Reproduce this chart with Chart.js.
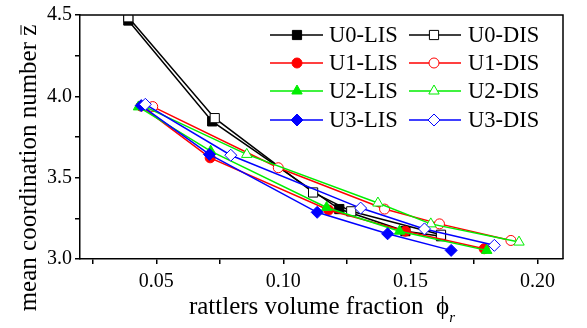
<!DOCTYPE html>
<html>
<head>
<meta charset="utf-8">
<script src="https://cdn.jsdelivr.net/npm/chart.js@4/dist/chart.umd.min.js"></script>
<style>
  html, body { margin: 0; padding: 0; background: #fff; }
  #wrap { width: 587px; height: 328px; }
</style>
</head>
<body>
<div id="wrap"><canvas id="zChart" width="587" height="328"></canvas></div>
<script>
// data
const phiU0LIS = [0.039, 0.072, 0.122, 0.148, 0.162];
const zU0LIS   = [4.466, 3.846, 3.307, 3.171, 3.140];
const phiU0DIS = [0.039, 0.073, 0.1117, 0.1267, 0.162];
const zU0DIS   = [4.486, 3.866, 3.409, 3.293, 3.149];

const phiU1LIS = [0.044, 0.0712, 0.1178, 0.148, 0.179];
const zU1LIS   = [3.940, 3.622, 3.301, 3.171, 3.063];
const phiU1DIS = [0.0486, 0.098, 0.1398, 0.1614, 0.1895];
const zU1DIS   = [3.937, 3.561, 3.307, 3.216, 3.114];

const phiU2LIS = [0.043, 0.0714, 0.117, 0.1457, 0.180];
const zU2LIS   = [3.935, 3.663, 3.317, 3.171, 3.053];
const phiU2DIS = [0.045, 0.0856, 0.1372, 0.158, 0.1927];
const zU2DIS   = [3.940, 3.643, 3.344, 3.216, 3.104];

const phiU3LIS = [0.0441, 0.0709, 0.1133, 0.141, 0.166];
const zU3LIS   = [3.943, 3.643, 3.287, 3.155, 3.053];
const phiU3DIS = [0.0457, 0.0793, 0.1304, 0.1555, 0.183];
const zU3DIS   = [3.951, 3.638, 3.313, 3.185, 3.084];

const xTicks = [0.025, 0.05, 0.075, 0.10, 0.125, 0.15, 0.175, 0.20];
const yTicks = [3.0, 3.25, 3.5, 3.75, 4.0, 4.25, 4.5];

const FONT = "'Liberation Serif', 'Times New Roman', serif";

function pts(xs, ys) {
  return xs.map((x, i) => ({ x: x, y: ys[i] }));
}

// label, x, y, color, style, filled, radius, drawing order (low = on top)
const series = [
  ['U0-LIS', phiU0LIS, zU0LIS, '#000000', 'rect', true, 6.5, 8],
  ['U0-DIS', phiU0DIS, zU0DIS, '#000000', 'rect', false, 6.5, 7],
  ['U1-LIS', phiU1LIS, zU1LIS, '#ff0000', 'circle', true, 5, 6],
  ['U1-DIS', phiU1DIS, zU1DIS, '#ff0000', 'circle', false, 5, 5],
  ['U2-LIS', phiU2LIS, zU2LIS, '#00ee00', 'triangle', true, 6, 4],
  ['U2-DIS', phiU2DIS, zU2DIS, '#00ee00', 'triangle', false, 6, 3],
  ['U3-LIS', phiU3LIS, zU3LIS, '#0000ff', 'rectRot', true, 6, 2],
  ['U3-DIS', phiU3DIS, zU3DIS, '#0000ff', 'rectRot', false, 6, 1]
];

const datasets = series.map(s => ({
  label: s[0],
  data: pts(s[1], s[2]),
  borderColor: s[3],
  borderWidth: 1.5,
  pointStyle: s[4],
  pointRadius: s[6],
  pointBackgroundColor: s[5] ? s[3] : '#ffffff',
  pointBorderColor: s[3],
  pointBorderWidth: 1,
  fill: false,
  tension: 0,
  order: s[7]
}));

const frameAndText = {
  id: 'frameAndText',
  afterDraw(chart) {
    const ctx = chart.ctx;
    const a = chart.chartArea;
    ctx.save();
    // top and right frame
    ctx.strokeStyle = '#000';
    ctx.lineWidth = 1.5;
    ctx.beginPath();
    ctx.moveTo(a.left, a.top);
    ctx.lineTo(a.right, a.top);
    ctx.lineTo(a.right, a.bottom);
    ctx.stroke();

    // x title with subscript
    ctx.fillStyle = '#000';
    ctx.textBaseline = 'alphabetic';
    ctx.textAlign = 'left';
    ctx.font = '25px ' + FONT;
    const main = 'rattlers volume fraction  \u03d5';
    const wMain = ctx.measureText(main).width;
    ctx.font = 'italic 15px ' + FONT;
    const wSub = ctx.measureText('r').width;
    let x0 = 322 - (wMain + wSub) / 2;
    ctx.font = '25px ' + FONT;
    ctx.fillText(main, x0, 314);
    ctx.font = 'italic 15px ' + FONT;
    ctx.fillText('r', x0 + wMain, 322);

    // y title with overline on z
    ctx.save();
    ctx.translate(36, 168);
    ctx.rotate(-Math.PI / 2);
    ctx.font = '25px ' + FONT;
    ctx.textAlign = 'center';
    const ytxt = 'mean coordination number z';
    const wy = ctx.measureText(ytxt).width;
    const wz = ctx.measureText('z').width;
    ctx.fillText(ytxt, 0, 0);
    ctx.lineWidth = 1;
    ctx.beginPath();
    ctx.moveTo(wy / 2 - wz + 1, -15);
    ctx.lineTo(wy / 2 - 0.5, -15);
    ctx.stroke();
    ctx.restore();

    // legend: two columns, four rows
    const rowY = [35, 63, 91, 120];
    const cols = [{ l0: 270, l1: 323, m: 297, t: 329 }, { l0: 409, l1: 461, m: 434, t: 468 }];
    series.forEach((s, i) => {
      const c = cols[i % 2];
      const y = rowY[Math.floor(i / 2)];
      ctx.strokeStyle = s[3];
      ctx.lineWidth = 1.5;
      ctx.beginPath();
      ctx.moveTo(c.l0, y);
      ctx.lineTo(c.l1, y);
      ctx.stroke();
      ctx.fillStyle = s[5] ? s[3] : '#ffffff';
      ctx.lineWidth = 1;
      Chart.helpers.drawPoint(ctx, { pointStyle: s[4], radius: s[6], rotation: 0, borderWidth: 1 }, c.m, y);
      ctx.fillStyle = '#000';
      ctx.font = '22.5px ' + FONT;
      ctx.textAlign = 'left';
      ctx.textBaseline = 'middle';
      ctx.fillText(s[0], c.t, y + 1);
    });
    ctx.restore();
  }
};

new Chart(document.getElementById('zChart'), {
  type: 'line',
  data: { datasets: datasets },
  options: {
    responsive: false,
    devicePixelRatio: 1,
    animation: false,
    layout: { padding: { top: 13, right: 24, left: 0, bottom: 0 } },
    plugins: {
      legend: { display: false },
      tooltip: { enabled: false }
    },
    scales: {
      x: {
        type: 'linear',
        min: 0.02,
        max: 0.21,
        afterBuildTicks: scale => { scale.ticks = xTicks.map(v => ({ value: v })); },
        afterFit: scale => { scale.height = 69; },
        ticks: {
          autoSkip: false,
          maxRotation: 0,
          padding: 6,
          color: '#000',
          font: { family: FONT, size: 20 },
          callback: v => (Math.abs(v * 20 - Math.round(v * 20)) < 1e-6 ? v.toFixed(2) : '')
        },
        grid: { drawOnChartArea: false, drawTicks: true, tickLength: 5, color: '#000', lineWidth: 1.5 },
        border: { color: '#000', width: 1.5 }
      },
      y: {
        type: 'linear',
        min: 3.0,
        max: 4.5,
        afterBuildTicks: scale => { scale.ticks = yTicks.map(v => ({ value: v })); },
        afterFit: scale => { scale.width = 80; },
        ticks: {
          autoSkip: false,
          padding: 3,
          color: '#000',
          font: { family: FONT, size: 20 },
          callback: v => (Math.abs(v * 2 - Math.round(v * 2)) < 1e-6 ? v.toFixed(1) : '')
        },
        grid: { drawOnChartArea: false, drawTicks: true, tickLength: 5, color: '#000', lineWidth: 1.5 },
        border: { color: '#000', width: 1.5 }
      }
    }
  },
  plugins: [frameAndText]
});
</script>
</body>
</html>
